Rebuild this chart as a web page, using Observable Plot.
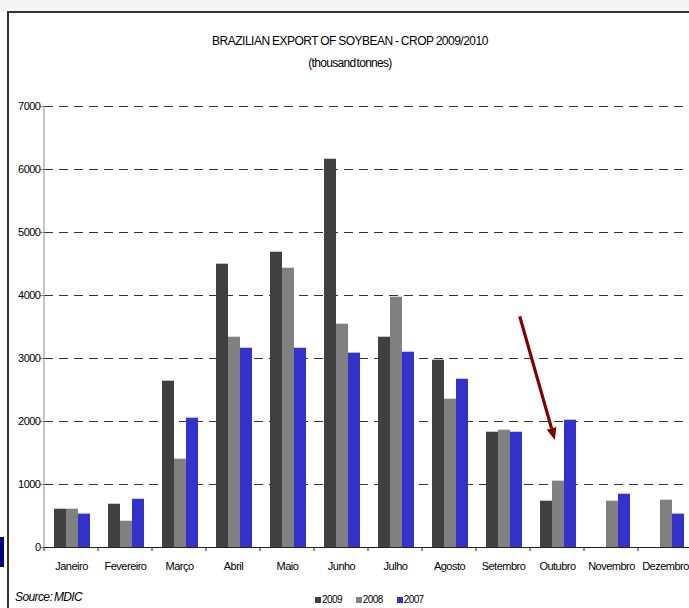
<!DOCTYPE html>
<html>
<head>
<meta charset="utf-8">
<script src="https://cdn.jsdelivr.net/npm/d3@7"></script>
<script src="https://cdn.jsdelivr.net/npm/@observablehq/plot@0.6"></script>
<style>
  html, body { margin: 0; padding: 0; background: #fff; }
  #wrap { position: relative; width: 689px; height: 608px; overflow: hidden; background: #fff; font-family: "Liberation Sans", Arial, sans-serif; }
  #strip { position: absolute; left: 0; top: 0; width: 689px; height: 11px; background: #f5f5f5; }
  #frameTop { position: absolute; left: 7px; top: 11px; width: 682px; height: 2px; background: #333; }
  #frameLeft { position: absolute; left: 7px; top: 11px; width: 2px; height: 597px; background: #333; }
  #navy { position: absolute; left: 0; top: 537px; width: 4px; height: 30px; background: #000080; }
  #chart { position: absolute; left: 0; top: 0; }
  .title { position: absolute; left: 0; width: 700px; text-align: center; font-size: 12px; line-height: 14px; color: #000; }
  #t1 { letter-spacing: -0.5px; word-spacing: -0.5px; }
  #t2 { letter-spacing: -0.7px; word-spacing: -1.5px; }
  #source { position: absolute; left: 15px; top: 590px; font-size: 12px; line-height: 14px; font-style: italic; letter-spacing: -0.6px; word-spacing: -1px; color: #000; }
  #legend { position: absolute; left: 315px; top: 594px; font-size: 10px; line-height: 12px; letter-spacing: -0.6px; color: #000; display: flex; align-items: center; }
  #legend span.item { display: inline-flex; align-items: center; margin-right: 14px; }
  #legend span.sw { display: inline-block; width: 6px; height: 6px; margin-right: 1px; }
</style>
</head>
<body>
<div id="wrap">
  <div id="strip"></div>
  <div id="chart"></div>
  <div id="frameTop"></div>
  <div id="frameLeft"></div>
  <div id="navy"></div>
  <div class="title" id="t1" style="top:34px"></div>
  <div class="title" id="t2" style="top:56px"></div>
  <div id="source"></div>
  <div id="legend"></div>
</div>
<script>
const titleText = "BRAZILIAN EXPORT OF SOYBEAN - CROP 2009/2010";
const subtitleText = "(thousand tonnes)";
const sourceText = "Source: MDIC";

const months = ["Janeiro", "Fevereiro", "Março", "Abril", "Maio", "Junho", "Julho", "Agosto", "Setembro", "Outubro", "Novembro", "Dezembro"];
const series = ["2009", "2008", "2007"];
const values2009 = [608, 687, 2640, 4497, 4687, 6163, 3338, 2973, 1830, 735, null, null];
const values2008 = [608, 417, 1402, 3338, 4433, 3545, 3973, 2354, 1862, 1053, 735, 751];
const values2007 = [530, 766, 2053, 3163, 3163, 3085, 3100, 2671, 1830, 2021, 846, 530];
const colors = ["#404040", "#808080", "#3333cc"];
const yTicks = [0, 1000, 2000, 3000, 4000, 5000, 6000, 7000];
// annotation arrow: from a point over Setembro to a point over Outubro
const arrowNote = { fromMonth: "Setembro", fromValue: 3660, toMonth: "Outubro", toValue: 1700 };

document.getElementById("t1").textContent = titleText;
document.getElementById("t2").textContent = subtitleText;
document.getElementById("source").textContent = sourceText;
const legend = document.getElementById("legend");
series.forEach((s, i) => {
  const it = document.createElement("span"); it.className = "item";
  const sw = document.createElement("span"); sw.className = "sw"; sw.style.background = colors[i];
  it.appendChild(sw); it.appendChild(document.createTextNode(s));
  legend.appendChild(it);
});

const allValues = [values2009, values2008, values2007];
const tables = allValues.map(vals => months.map((m, i) => ({ month: m, value: vals[i] })).filter(d => d.value != null));

// bar placement inside each month band (px insets)
const barW = 12, groupOffset = 10;
const bandW = (689 - 44 + 3) / 12;
const barMarks = tables.map((tbl, k) => Plot.barY(tbl, {
  x: "month", y: "value", fill: colors[k],
  insetLeft: groupOffset + k * barW,
  insetRight: bandW - (groupOffset + (k + 1) * barW)
}));

function decorations(index, scales, values, dimensions) {
  const g = d3.create("svg:g");
  const x = scales.x, y = scales.y;
  const bw = x.bandwidth ? x.bandwidth() : bandW;
  const step = x.step ? x.step() : bw;
  const x0 = dimensions.marginLeft;
  // y axis line
  g.append("line").attr("x1", x0).attr("x2", x0).attr("y1", y(yTicks[0])).attr("y2", y(yTicks[yTicks.length - 1]))
    .attr("stroke", "#8a8a8a").attr("stroke-width", 1);
  // boundary ticks under the x axis
  months.forEach((m, i) => {
    const xs = x0 + i * step;
    g.append("line").attr("x1", xs).attr("x2", xs).attr("y1", y(0)).attr("y2", y(0) + 4).attr("stroke", "#222");
  });
  // arrow
  const bandStart = m => x0 + months.indexOf(m) * step;
  const ax1 = bandStart(arrowNote.fromMonth) + step * 0.81;
  const ay1 = y(arrowNote.fromValue);
  const ax2 = bandStart(arrowNote.toMonth) + step * 0.46;
  const ay2 = y(arrowNote.toValue);
  const ang = Math.atan2(ay2 - ay1, ax2 - ax1);
  const headLen = 12, headW = 5;
  const bx = ax2 - headLen * Math.cos(ang), by = ay2 - headLen * Math.sin(ang);
  g.append("line").attr("x1", ax1).attr("y1", ay1).attr("x2", bx).attr("y2", by)
    .attr("stroke", "#800000").attr("stroke-width", 3.2);
  const px = -Math.sin(ang), py = Math.cos(ang);
  g.append("path").attr("d", `M${ax2},${ay2}L${bx + px * headW},${by + py * headW}L${bx - px * headW},${by - py * headW}Z`)
    .attr("fill", "#800000");
  return g.node();
}

const chart = Plot.plot({
  width: 689,
  height: 608,
  marginTop: 106,
  marginBottom: 61,
  marginLeft: 44,
  marginRight: -3,
  style: { background: "transparent", fontFamily: "Liberation Sans, Arial, sans-serif", fontSize: "11px", color: "#000", letterSpacing: "-0.5px" },
  x: { domain: months, paddingInner: 0, paddingOuter: 0, label: null, axis: null },
  y: { domain: [0, 7000], label: null, axis: null },
  marks: [
    Plot.ruleY(yTicks.filter(d => d > 0), { stroke: "#333", strokeWidth: 1, strokeDasharray: "9,6" }),
    ...barMarks,
    Plot.ruleY([0], { stroke: "#222", strokeWidth: 1 }),
    Plot.axisY(yTicks, { tickSize: 4, tickPadding: 0, tickFormat: d => String(d), label: null, stroke: "#8a8a8a", fill: "#000" }),
    Plot.axisX(months, { tickSize: 0, tickPadding: 15, label: null, fill: "#000" }),
    decorations
  ]
});
document.getElementById("chart").appendChild(chart);
</script>
</body>
</html>
